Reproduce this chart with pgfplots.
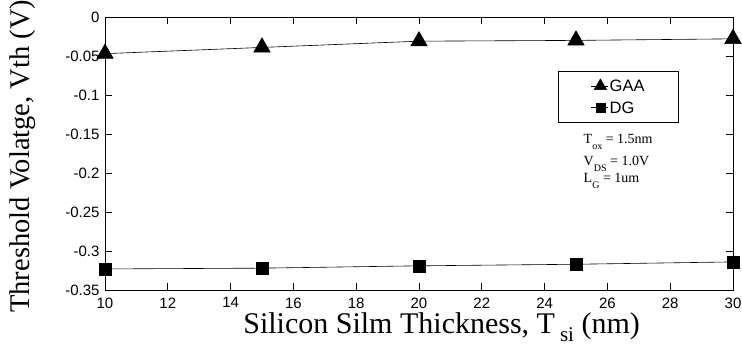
\documentclass[border=0pt]{standalone}
\usepackage{fontspec}
\setmainfont{Liberation Serif}
\newfontfamily\arial{Liberation Sans}
\usepackage{pgfplots}
\pgfplotsset{compat=1.18}
\begin{document}
\begin{tikzpicture}
\begin{axis}[
  name=ax,
  width=628pt, height=273pt, scale only axis,
  xmin=10, xmax=30, ymin=-0.35, ymax=0,
  xtick={10,12,...,30},
  ytick={-0.35,-0.3,-0.25,-0.2,-0.15,-0.1,-0.05,0},
  yticklabels={-0.35,-0.3,-0.25,-0.2,-0.15,-0.1,-0.05,0},
  tick label style={font=\arial\fontsize{15}{15}\selectfont},
  xticklabel style={yshift=-4pt},
  yticklabel style={xshift=-2pt},
  /pgf/number format/assume math mode=true,
  axis line style={line width=0.8pt},
  tick style={black, line width=0.8pt},
  major tick length=7pt,
  xlabel={Silicon Silm Thickness, T\,\raisebox{-9pt}{\fontsize{21}{21}\selectfont si} (nm)},
  ylabel={Threshold Volatge, Vth (V)},
  xlabel style={font=\fontsize{30}{30}\selectfont, at={(axis description cs:0.536,0)}, anchor=base, yshift=-43pt},
  ylabel style={font=\fontsize{28.5}{28.5}\selectfont, at={(axis description cs:-0.121,0.49)}, anchor=base},
  legend style={at={(0.721,0.802)}, anchor=north west, draw=black, line width=0.6pt,
    font=\arial\fontsize{16.5}{16.5}\selectfont, inner xsep=33pt, inner ysep=7pt, row sep=6pt,
    /tikz/every even column/.append style={column sep=0pt}},
  legend cell align=left,
  legend image code/.code={\draw[#1] (-9pt,0pt) -- (8pt,0pt); \draw[#1,only marks, mark options={scale=0.75}] plot coordinates {(0pt,0pt)};},
]
\addplot[black, line width=0.6pt, mark=triangle*, mark size=9.5pt, mark options={solid}] coordinates {
(10,-0.047) (15,-0.039) (20,-0.031) (25,-0.030) (30,-0.028)};
\addlegendentry[text depth=0pt, inner xsep=1pt]{GAA}
\addplot[black, line width=0.6pt, mark=square*, mark size=6pt] coordinates {
(10,-0.323) (15,-0.322) (20,-0.319) (25,-0.317) (30,-0.314)};
\addlegendentry[text depth=0pt, inner xsep=1pt]{DG}
\node[anchor=base west, inner sep=0pt, font=\fontsize{14}{14}\selectfont] at (rel axis cs:0.762,0.535)
 {T\raisebox{-6pt}{\fontsize{10}{10}\selectfont ox} = 1.5nm};
\node[anchor=base west, inner sep=0pt, font=\fontsize{14}{14}\selectfont] at (rel axis cs:0.762,0.455)
 {V\raisebox{-6pt}{\fontsize{10}{10}\selectfont DS} = 1.0V};
\node[anchor=base west, inner sep=0pt, font=\fontsize{14}{14}\selectfont] at (rel axis cs:0.762,0.392)
 {L\raisebox{-6pt}{\fontsize{10}{10}\selectfont G} = 1um};
\end{axis}
\pgfresetboundingbox
\path[use as bounding box] (ax.south west) ++(-105pt,-66pt) rectangle ++(742pt,356pt);
\end{tikzpicture}
\end{document}
